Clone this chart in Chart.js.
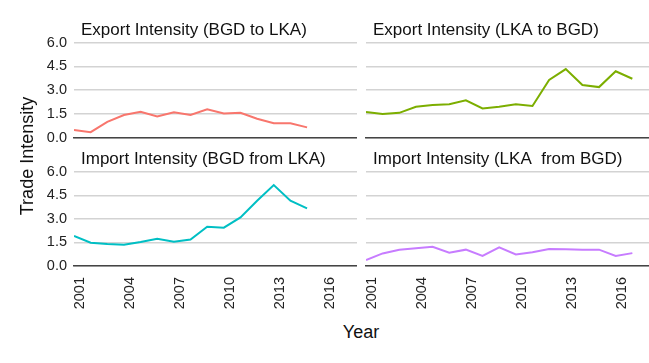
<!DOCTYPE html>
<html>
<head>
<meta charset="utf-8">
<script src="https://cdn.jsdelivr.net/npm/chart.js@4.4.1/dist/chart.umd.min.js"></script>
<style>
  html, body { margin: 0; padding: 0; background: #ffffff; }
  #wrap { position: relative; width: 649px; height: 363px; overflow: hidden; background: #ffffff;
          font-family: "Liberation Sans", Arial, Helvetica, sans-serif; }
  .panel { position: absolute; }
  .panel canvas { display: block; }
  #xTitle { position: absolute; left: 261px; width: 200px; top: 321px; text-align: center;
            font-size: 18px; color: #111; line-height: 22px; }
  #yTitle { position: absolute; left: 27px; top: 156px; width: 200px; height: 22px; margin-left: -100px; margin-top: -11px;
            text-align: center; font-size: 18px; color: #111; line-height: 22px; transform: rotate(-90deg); }
</style>
</head>
<body>
<div id="wrap">
  <div class="panel" style="left:0px; top:16px;"><canvas id="c1" width="357" height="132"></canvas></div>
  <div class="panel" style="left:360px; top:16px;"><canvas id="c2" width="289" height="132"></canvas></div>
  <div class="panel" style="left:0px; top:145px;"><canvas id="c3" width="357" height="167"></canvas></div>
  <div class="panel" style="left:360px; top:145px;"><canvas id="c4" width="289" height="167"></canvas></div>
  <div id="xTitle">Year</div>
  <div id="yTitle">Trade Intensity</div>
</div>
<script>
// ---- data ----
const years = [2001, 2002, 2003, 2004, 2005, 2006, 2007, 2008, 2009, 2010, 2011, 2012, 2013, 2014, 2015, 2016, 2017];
const exportBgdToLka   = [0.47, 0.34, 0.99, 1.42, 1.63, 1.33, 1.59, 1.42, 1.78, 1.52, 1.57, 1.19, 0.90, 0.90, 0.64];
const exportLkaToBgd   = [1.61, 1.48, 1.56, 1.95, 2.05, 2.11, 2.35, 1.84, 1.95, 2.11, 1.99, 3.64, 4.33, 3.32, 3.19, 4.19, 3.72];
const importBgdFromLka = [1.91, 1.48, 1.40, 1.35, 1.53, 1.74, 1.55, 1.69, 2.50, 2.44, 3.09, 4.15, 5.15, 4.15, 3.67];
const importLkaFromBgd = [0.38, 0.80, 1.04, 1.13, 1.22, 0.85, 1.04, 0.64, 1.19, 0.74, 0.87, 1.08, 1.06, 1.04, 1.04, 0.64, 0.82];
const xTicks = [2001, 2004, 2007, 2010, 2013, 2016];
const yTicks = [0, 1.5, 3, 4.5, 6];
const panelTitles = [
  "Export Intensity (BGD to LKA)",
  "Export Intensity (LKA to BGD)",
  "Import Intensity (BGD from LKA)",
  "Import Intensity (LKA  from BGD)"
];
const seriesColors = ["#F8766D", "#7CAE00", "#00BFC4", "#C77CFF"];

const FONT = "'Liberation Sans', Arial, Helvetica, sans-serif";

const titleShift = {
  id: 'titleShift',
  afterLayout(chart) {
    const t = chart.titleBlock;
    if (t) {
      t.left = chart.chartArea.left + 7;
      t.right = chart.width;
    }
  }
};

function makePanel(id, title, values, color, showY, showX) {
  const pts = values.map((v, i) => ({ x: years[i], y: v }));
  return new Chart(document.getElementById(id), {
    type: 'line',
    data: { datasets: [{ data: pts, borderColor: color, borderWidth: 2, pointRadius: 0, tension: 0, fill: false }] },
    options: {
      responsive: false,
      animation: false,
      events: [],
      layout: { padding: 0 },
      plugins: {
        legend: { display: false },
        tooltip: { enabled: false },
        title: {
          display: true, text: title, align: 'start', fullSize: false,
          color: '#111', font: { family: FONT, size: 17, weight: 'normal' },
          padding: { top: 4, bottom: 2.3 }
        }
      },
      scales: {
        x: {
          type: 'linear', min: 2001, max: 2018,
          grid: { display: false, drawTicks: false },
          border: { display: true, color: '#444444', width: 1.5 },
          ticks: {
            display: showX, autoSkip: false, maxRotation: 90, minRotation: 90,
            padding: 11, labelOffset: 6, color: '#222', font: { family: FONT, size: 14.5 },
            callback: v => String(v)
          },
          afterBuildTicks: s => { s.ticks = xTicks.map(v => ({ value: v })); },
          afterFit: s => { s.height = showX ? 46 : 10.5; s.paddingLeft = 0; s.paddingRight = 0; }
        },
        y: {
          min: 0, max: 6,
          grid: { color: '#d3d3d3', lineWidth: 1.4, drawTicks: false },
          border: { display: false },
          ticks: {
            display: showY, padding: 7, color: '#222', font: { family: FONT, size: 14.5 },
            callback: v => Number(v).toFixed(1)
          },
          afterBuildTicks: s => { s.ticks = yTicks.map(v => ({ value: v })); },
          afterFit: s => { s.width = showY ? 74 : 6; s.paddingTop = 0; s.paddingBottom = 0; }
        }
      }
    },
    plugins: [titleShift]
  });
}

makePanel('c1', panelTitles[0], exportBgdToLka,   seriesColors[0], true,  false);
makePanel('c2', panelTitles[1], exportLkaToBgd,   seriesColors[1], false, false);
makePanel('c3', panelTitles[2], importBgdFromLka, seriesColors[2], true,  true);
makePanel('c4', panelTitles[3], importLkaFromBgd, seriesColors[3], false, true);
</script>
</body>
</html>
